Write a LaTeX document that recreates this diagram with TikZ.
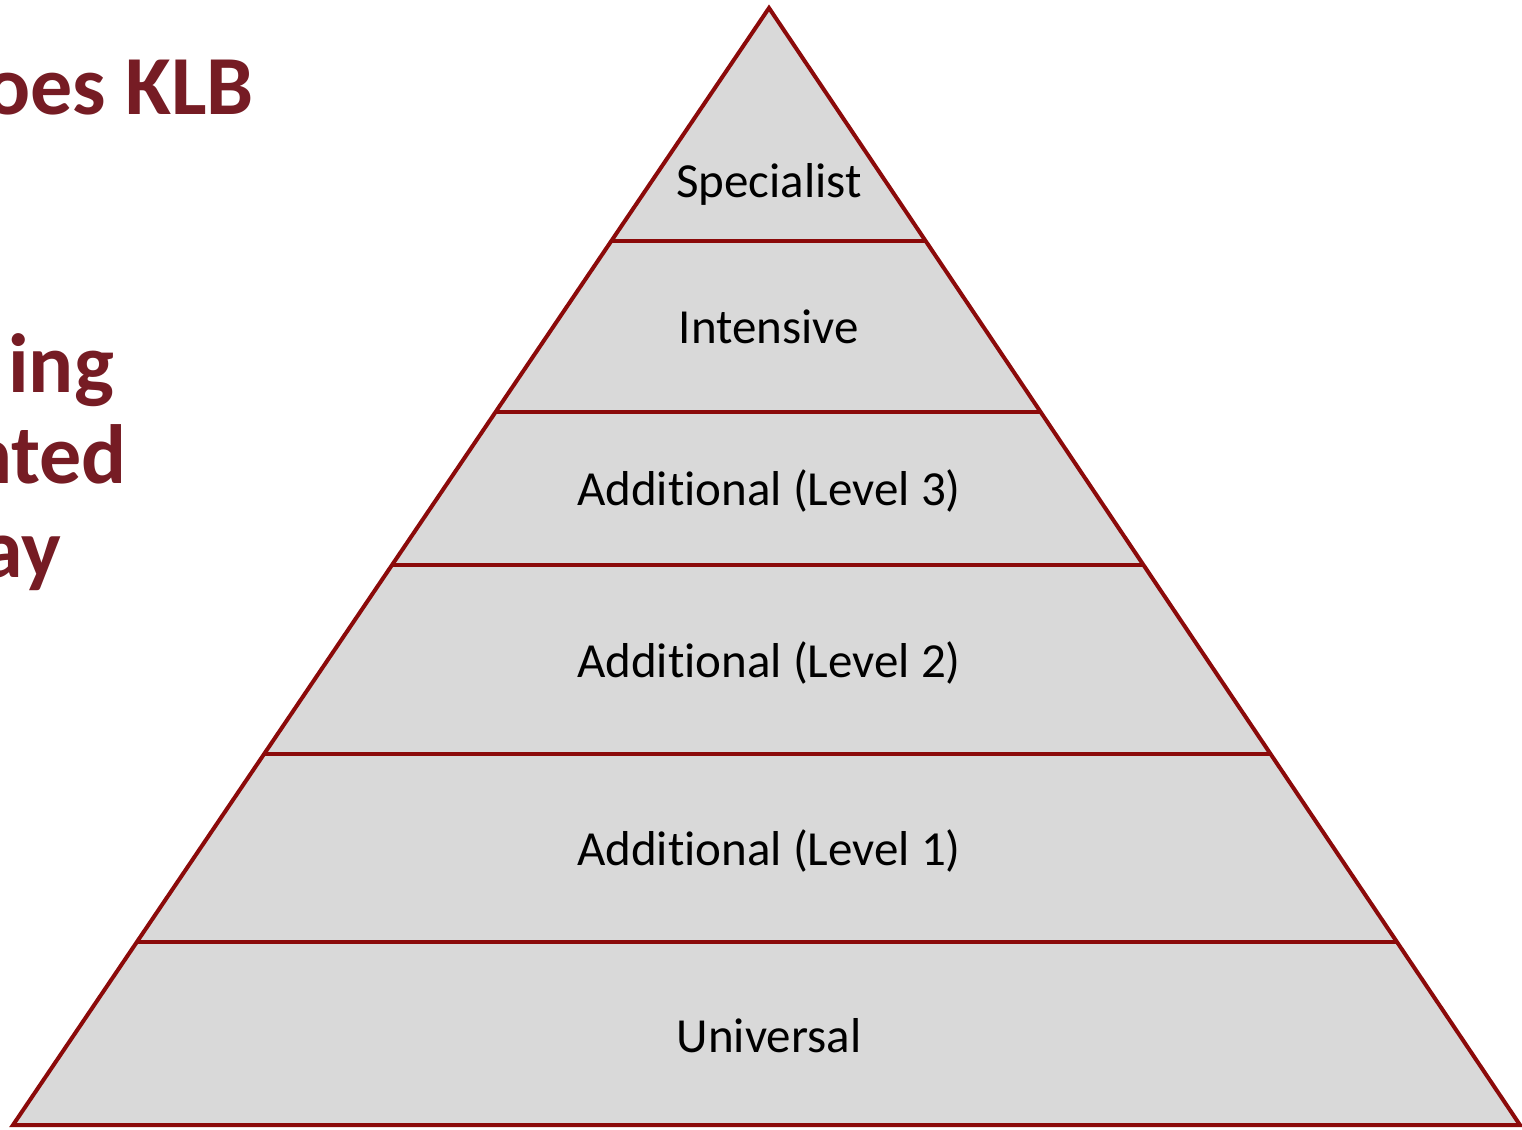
\documentclass[tikz,border=0pt]{standalone}
\usepackage{fontspec}
\setmainfont[Ligatures=CommonOff]{Carlito}
\usetikzlibrary{calc}
\definecolor{pyrline}{HTML}{8B0A0A}
\definecolor{pyrfill}{HTML}{D9D9D9}
\definecolor{headred}{HTML}{761C24}
\begin{document}
\begin{tikzpicture}[x=1pt,y=-1pt,
  lbl/.style={font=\fontsize{49}{55}\selectfont, text=black, inner sep=0pt, anchor=base},
  head/.style={font=\bfseries\fontsize{84}{90}\selectfont, text=headred, anchor=base east, inner sep=0pt},
  edge/.style={draw=pyrline, line width=4pt}]
\useasboundingbox (0,0) rectangle (1522,1129);
\clip (0,0) rectangle (1522,1129);
\coordinate (apex) at (769,8);
\coordinate (bl) at (13,1125);
\coordinate (br) at (1520,1125);
\fill[pyrfill] (apex) -- (bl) -- (br) -- cycle;
\foreach \yy in {241,412,565,754,942} {
  \pgfmathsetmacro\t{(\yy-8)/1117}
  \draw[edge] ($(apex)!\t!(bl)$) -- ($(apex)!\t!(br)$);
}
\draw[edge, line join=miter] (apex) -- (bl) -- (br) -- cycle;
\node[lbl] (spec) at (769,197) {Specialist};
\node[lbl] (inten) at (769,343) {Intensive};
\node[lbl] (add3) at (769,505) {Additional (Level 3)};
\node[lbl] (add2) at (769,677) {Additional (Level 2)};
\node[lbl] (add1) at (769,865) {Additional (Level 1)};
\node[lbl] (univ) at (769,1052) {Universal};
\node[head] (h1) at (254,115) {oes KLB};
\node[head] (h2) at (114,392) {ing};
\node[head] (h3) at (127,483) {nted};
\node[head] (h4) at (61,577) {ay};
\end{tikzpicture}
\end{document}
